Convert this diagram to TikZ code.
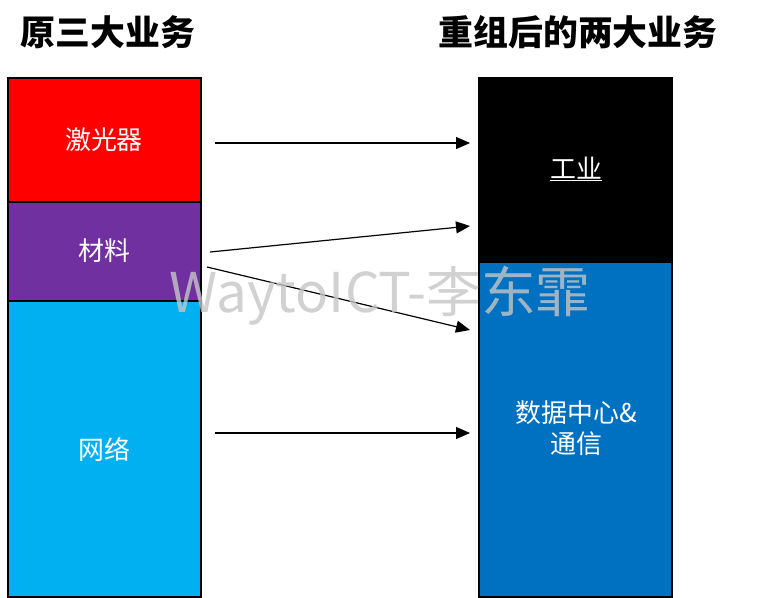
\documentclass[tikz,border=0pt]{standalone}
\usepackage{fontspec}
\setmainfont{Noto Sans CJK SC}
\usetikzlibrary{arrows.meta}
\tikzset{
    seg/.style = {
        draw = black,
        line width = 1.2pt,
        text = white,
        font = \fontsize{26}{31}\selectfont,
        },
    title/.style = {
        font = \fontsize{35}{36}\selectfont\bfseries,
        },
    move/.style = {
        draw = black,
        line width = 1.2pt,
        -{Triangle[length=14bp,width=12bp]},
        },
}
\begin{document}
\begin{tikzpicture}[x=1bp,y=-1bp]
    \useasboundingbox (0,0) rectangle (760,598);
    % titles
    \node[title] (old) at (108,32) {原三大业务};
    \node[title] (new) at (578,32) {重组后的两大业务};

    % left column
    \draw[seg, fill=red] (8,78) rectangle (201,202);
    \draw[seg, fill={rgb,255:red,112;green,48;blue,160}] (8,202) rectangle (201,301);
    \draw[seg, fill={rgb,255:red,0;green,176;blue,240}] (8,301) rectangle (201,597);
    \node[seg, draw=none] (laser) at (104,140) {激光器};
    \node[seg, draw=none] (mat) at (104,251) {材料};
    \node[seg, draw=none] (net) at (104,449) {网络};

    % right column
    \draw[seg, fill=black] (479,78) rectangle (672,262);
    \draw[seg, fill={rgb,255:red,0;green,112;blue,192}] (479,262) rectangle (672,597);
    \node[seg, draw=none] (ind) at (576,169) {\underline{工业}};
    \node[seg, draw=none, align=center] (dc) at (576,428) {数据中心\&\\通信};

    % arrows
    \coordinate (a1) at (215,143); \coordinate (b1) at (470,143);
    \coordinate (a2) at (210,252); \coordinate (b2) at (470,226);
    \coordinate (a3) at (207,267); \coordinate (b3) at (470,330);
    \coordinate (a4) at (215,433); \coordinate (b4) at (470,433);
    \draw[move] (a1) -- (b1);
    \draw[move] (a2) -- (b2);
    \draw[move] (a3) -- (b3);
    \draw[move] (a4) -- (b4);

    % watermark
    \node[font=\fontsize{55}{57}\selectfont, text=gray!45, opacity=0.8] (mark) at (380,296) {WaytoICT-李东霏};
\end{tikzpicture}
\end{document}
